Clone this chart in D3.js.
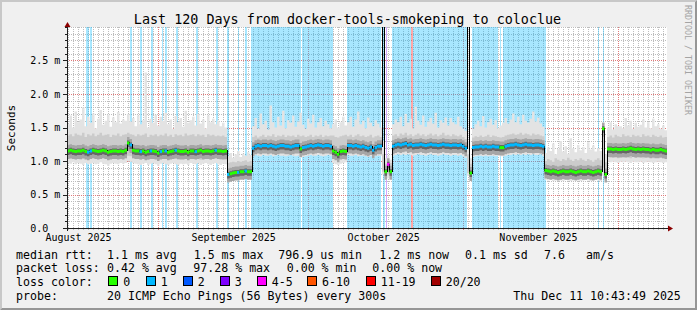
<!DOCTYPE html>
<html><head><meta charset="utf-8">
<script src="https://cdn.jsdelivr.net/npm/d3@7"></script>
<style>
body{margin:0;background:#f0f0f0}
svg{display:block}
text{font-family:"DejaVu Sans Mono",monospace;white-space:pre}
</style>
</head><body>
<svg id="c" width="697" height="310"></svg>
<script>
// ---------------- DATA ----------------
const titleText = "Last 120 Days from docker-tools-smokeping to coloclue";
const spanDays = 120;          // x domain, days since start of window
const binDays = 0.5;           // one sample every 12 hours
const monthLabels = ["August 2025","September 2025","October 2025","November 2025"];
const monthLabelDay = [2.3, 33.34, 63.34, 94.3];
const monthGridDay = [18.2, 48.2, 79.2, 110.2];
const yTicks = [0, 0.5, 1.0, 1.5, 2.0, 2.5];
const yTickLabels = ["0.0","0.5 m","1.0 m","1.5 m","2.0 m","2.5 m"];
const lossLabels = ["0","1","2","3","4-5","6-10","11-19","20/20"];
const lossColors = ["#26ff00","#00b8ff","#0059ff","#7e00ff","#ff00ff","#ff5500","#ff0000","#a10000"];

// median RTT per 12h sample (ms)
const median = [
 1.15,1.16,1.15,1.14,1.15,1.15,1.16,1.14,1.13,1.15,1.16,1.15,1.14,1.15,1.16,1.15,1.13,1.14,1.15,1.15,1.14,1.15,1.14,1.16,
 1.27,1.24,
 1.16,1.15,1.15,1.14,1.15,1.13,1.14,1.15,1.15,1.14,1.12,1.14,1.15,1.15,1.13,1.14,1.15,1.16,1.15,1.14,1.14,1.15,1.13,1.15,1.15,1.14,1.15,1.16,1.14,1.15,1.15,1.14,1.15,1.16,1.15,1.15,1.14,1.15,
 0.80,0.81,0.82,0.83,0.83,0.84,0.84,0.85,0.84,0.84,
 1.19,1.22,1.23,1.22,1.23,1.23,1.22,1.23,1.22,1.21,1.22,1.23,1.23,1.22,1.22,1.21,1.22,1.23,1.23,1.18,1.20,1.21,1.22,1.23,1.22,1.23,1.24,1.23,1.22,1.23,1.23,1.22,
 1.15,1.13,1.10,1.14,1.15,1.14,
 1.23,1.23,1.22,1.23,1.22,1.21,1.22,1.20,1.19,1.21,1.16,1.20,1.22,1.22,
 3.5,
 0.84,0.95,0.84,
 1.22,1.24,1.25,1.24,1.25,1.26,1.24,1.25,1.23,1.24,1.24,1.25,1.24,1.23,1.24,1.25,1.24,1.24,1.23,1.24,1.25,1.24,1.24,1.23,1.24,1.24,1.23,1.24,1.22,1.19,
 3.5,0.82,
 1.20,1.21,1.21,1.22,1.21,1.22,1.21,1.21,1.22,1.21,1.21,1.20,1.20,1.22,1.23,1.24,1.24,1.25,1.24,1.23,1.24,1.25,1.24,1.24,1.23,1.24,1.24,1.23,1.22,
 0.86,0.85,0.84,0.85,0.84,0.83,0.84,0.85,0.84,0.84,0.85,0.84,0.83,0.84,0.85,0.84,0.84,0.85,0.84,0.83,0.84,0.85,0.84,
 1.48,0.80,
 1.18,1.18,1.17,1.18,1.17,1.17,1.18,1.17,1.18,1.19,1.18,1.17,1.18,1.17,1.18,1.17,1.17,1.16,1.17,1.16,1.16,1.17,1.16,1.15
];
// smoke: lowest ping, lower body, upper body, highest ping (ms)
const smokeLo = [
 0.97,0.96,0.98,0.95,0.97,0.96,0.94,0.97,0.95,0.96,0.97,0.95,0.96,0.98,0.96,0.95,0.93,0.96,0.97,0.96,0.95,0.97,0.96,0.97,1.00,0.99,0.97,0.96,0.95,0.94,0.96,0.97,0.94,0.96,0.97,0.95,0.93,0.96,0.97,0.95,0.94,0.96,0.97,0.95,0.94,0.96,0.95,0.96,0.94,0.97,0.96,0.95,0.97,0.94,0.96,0.97,0.95,0.94,0.96,0.97,0.95,0.94,0.96,0.95,
 0.74,0.74,0.75,0.75,0.76,0.76,0.76,0.77,0.76,0.76,
 1.08,1.09,1.08,1.07,1.09,1.08,1.08,1.09,1.07,1.08,1.09,1.08,1.08,1.07,1.08,1.09,1.08,1.07,1.08,1.05,1.06,1.07,1.08,1.09,1.08,1.08,1.09,1.08,1.07,1.08,1.09,1.08,
 0.97,0.95,0.94,0.96,0.97,0.98,
 1.09,1.08,1.08,1.09,1.07,1.08,1.08,1.07,1.06,1.07,1.05,1.07,1.08,1.08,
 0.80,
 0.72,0.74,0.73,
 1.08,1.09,1.10,1.09,1.10,1.09,1.10,1.09,1.08,1.09,1.10,1.09,1.09,1.08,1.09,1.10,1.09,1.09,1.08,1.09,1.10,1.09,1.09,1.08,1.09,1.09,1.08,1.09,1.07,1.05,
 0.78,0.72,
 1.06,1.07,1.08,1.08,1.07,1.08,1.07,1.08,1.08,1.07,1.08,1.07,1.07,1.08,1.09,1.09,1.10,1.09,1.10,1.09,1.10,1.09,1.10,1.09,1.10,1.09,1.09,1.10,1.08,
 0.72,0.71,0.72,0.70,0.71,0.72,0.71,0.70,0.72,0.71,0.70,0.71,0.72,0.71,0.70,0.71,0.72,0.71,0.70,0.71,0.72,0.71,0.70,
 0.78,0.72,
 0.99,0.98,0.99,0.98,0.97,0.99,0.98,0.99,0.98,0.97,0.99,0.98,0.98,0.99,0.97,0.98,0.99,0.98,0.97,0.98,0.99,0.98,0.97,0.98
];
const smokeQ1 = [
 1.04,1.03,1.05,1.03,1.04,1.02,1.03,1.04,1.02,1.03,1.04,1.03,1.03,1.05,1.04,1.03,1.02,1.03,1.04,1.03,1.03,1.04,1.03,1.04,1.08,1.07,1.04,1.03,1.04,1.02,1.03,1.04,1.02,1.03,1.04,1.03,1.01,1.03,1.04,1.03,1.02,1.03,1.04,1.03,1.02,1.04,1.03,1.03,1.02,1.04,1.03,1.03,1.04,1.02,1.03,1.04,1.03,1.02,1.03,1.04,1.03,1.02,1.03,1.02,
 0.77,0.77,0.78,0.79,0.79,0.80,0.80,0.80,0.80,0.80,
 1.14,1.15,1.14,1.13,1.15,1.14,1.14,1.15,1.13,1.14,1.15,1.14,1.14,1.13,1.14,1.15,1.14,1.13,1.14,1.10,1.12,1.13,1.15,1.14,1.14,1.15,1.14,1.13,1.14,1.15,1.14,1.15,
 1.04,1.03,1.02,1.03,1.04,1.05,
 1.15,1.14,1.14,1.15,1.13,1.14,1.14,1.13,1.12,1.13,1.10,1.13,1.14,1.14,
 0.84,
 0.77,0.80,0.78,
 1.15,1.16,1.17,1.16,1.17,1.17,1.16,1.17,1.15,1.16,1.16,1.17,1.16,1.15,1.16,1.17,1.16,1.16,1.15,1.16,1.17,1.16,1.16,1.15,1.16,1.16,1.15,1.16,1.14,1.11,
 0.82,0.76,
 1.13,1.14,1.14,1.15,1.14,1.15,1.14,1.14,1.15,1.14,1.14,1.13,1.13,1.15,1.16,1.16,1.17,1.16,1.17,1.16,1.17,1.16,1.17,1.16,1.16,1.17,1.16,1.16,1.15,
 0.77,0.76,0.76,0.75,0.76,0.77,0.76,0.75,0.76,0.76,0.75,0.76,0.77,0.76,0.75,0.76,0.77,0.76,0.75,0.76,0.77,0.76,0.75,
 0.90,0.76,
 1.06,1.05,1.06,1.05,1.04,1.06,1.05,1.06,1.05,1.04,1.06,1.05,1.05,1.06,1.04,1.05,1.06,1.05,1.04,1.05,1.06,1.05,1.04,1.05
];
const smokeQ3 = [
 1.38,1.40,1.37,1.41,1.39,1.38,1.42,1.36,1.40,1.38,1.41,1.37,1.39,1.42,1.38,1.39,1.40,1.36,1.39,1.38,1.41,1.37,1.39,1.40,1.42,1.40,1.39,1.37,1.40,1.38,1.39,1.41,1.36,1.39,1.38,1.40,1.37,1.39,1.38,1.41,1.37,1.39,1.36,1.40,1.38,1.39,1.37,1.41,1.38,1.39,1.40,1.37,1.40,1.38,1.39,1.36,1.40,1.38,1.39,1.37,1.38,1.37,1.38,1.36,
 0.97,0.98,0.99,0.98,1.00,0.99,1.00,1.01,0.99,1.00,
 1.36,1.38,1.35,1.37,1.39,1.36,1.38,1.37,1.40,1.36,1.38,1.37,1.39,1.36,1.38,1.37,1.38,1.36,1.39,1.37,1.38,1.36,1.37,1.39,1.36,1.38,1.37,1.39,1.36,1.38,1.37,1.38,
 1.38,1.36,1.35,1.37,1.38,1.39,
 1.37,1.39,1.36,1.38,1.40,1.37,1.38,1.36,1.37,1.39,1.35,1.37,1.38,1.36,
 1.10,
 0.96,1.00,0.97,
 1.38,1.40,1.37,1.41,1.39,1.42,1.38,1.40,1.37,1.39,1.41,1.38,1.40,1.37,1.39,1.41,1.38,1.40,1.37,1.39,1.42,1.38,1.39,1.37,1.40,1.38,1.37,1.39,1.36,1.33,
 1.10,0.96,
 1.35,1.37,1.36,1.38,1.36,1.37,1.39,1.36,1.38,1.37,1.36,1.35,1.36,1.38,1.39,1.40,1.41,1.39,1.40,1.42,1.39,1.41,1.40,1.38,1.41,1.39,1.40,1.38,1.37,
 1.00,1.03,1.01,0.99,1.04,1.02,1.00,1.03,1.01,1.05,1.02,1.00,1.03,1.01,1.04,1.02,1.00,1.03,1.01,0.99,1.02,1.04,1.01,
 1.40,0.98,
 1.36,1.38,1.35,1.39,1.37,1.36,1.40,1.37,1.38,1.36,1.39,1.37,1.38,1.36,1.40,1.37,1.38,1.36,1.39,1.37,1.36,1.38,1.35,1.36
];
const smokeHi = [
 1.55,1.68,1.50,1.74,1.58,1.62,1.80,1.52,1.66,1.57,1.71,1.49,1.63,1.76,1.54,1.60,1.69,1.51,1.65,1.58,1.73,1.56,1.62,1.60,1.70,1.59,1.64,1.52,1.68,1.55,1.61,2.32,1.50,1.63,1.57,1.69,1.53,1.66,1.60,1.72,1.55,1.62,1.48,1.67,1.58,1.64,1.51,1.75,1.57,1.61,1.66,1.53,1.70,1.56,1.62,1.49,1.68,1.58,1.63,1.55,1.60,1.52,1.57,1.50,
 1.07,1.12,1.05,1.10,1.15,1.06,1.11,1.08,1.13,1.09,
 1.52,1.64,1.48,1.71,1.55,1.60,1.47,1.83,1.58,1.50,1.66,1.53,1.75,1.49,1.61,1.57,1.68,1.51,1.59,1.72,1.54,1.48,1.63,1.56,1.69,1.50,1.58,1.64,1.52,1.60,1.55,1.49,
 1.55,1.62,1.50,1.58,1.66,1.53,
 1.58,1.66,1.51,1.62,1.74,1.55,1.60,1.49,1.65,1.57,1.52,1.61,1.56,1.50,
 1.30,
 1.04,1.08,1.02,
 1.55,1.62,1.58,1.66,1.52,1.70,1.57,1.63,1.49,1.81,1.60,1.54,1.68,1.51,1.59,1.64,1.56,1.72,1.50,1.61,1.57,1.65,1.53,1.64,1.58,1.55,1.66,1.52,1.48,1.45,
 1.30,1.04,
 1.48,1.55,1.60,1.52,1.67,1.50,1.58,1.63,1.54,1.61,1.49,1.53,1.57,1.64,1.56,1.62,1.71,1.58,1.66,1.55,1.69,1.60,1.57,1.63,1.74,1.59,1.65,1.56,1.51,
 1.12,1.20,1.15,1.26,1.10,1.18,1.30,1.14,1.22,1.11,1.34,1.19,1.13,1.24,1.16,1.21,1.12,1.28,1.17,1.23,1.14,1.19,1.15,
 1.58,1.10,
 1.50,1.58,1.47,1.55,1.52,1.52,1.49,1.64,1.53,1.60,1.48,1.57,1.51,1.54,1.62,1.50,1.58,1.49,1.63,1.52,1.55,1.48,1.53,1.46
];
// loss bucket of the median: [firstSample, lastSample, bucket]; all other samples bucket 0
const lossRuns = [[8,9,1],[25,25,1],[29,29,1],[33,33,1],[37,37,1],[39,39,1],[43,43,1],[51,51,1],[59,59,1],
 [64,64,1],[68,68,1],[71,71,1],[74,92,1],[94,105,1],[112,125,1],[126,126,6],[128,128,4],[130,159,1],
 [160,160,6],[162,172,1],[175,190,1]];
// loss background bars: [startDay, endDay, bucket]
const lossBg = [[3.8,4.3,1],[4.54,5.0,1],[12.6,12.9,1],[14.6,14.9,1],[16.8,17.1,1],[18.9,19.2,1],[19.6,19.9,1],
 [21.8,22.1,1],[25.8,26.1,1],[29.86,30.14,1],[32.0,32.3,1],[34.1,34.4,1],[35.6,36.0,1],[36.8,46.74,1],
 [47.06,53.2,1],[56.06,62.7,1],[63.2,63.6,1],[63.8,64.1,3],[64.94,68.8,1],[68.8,69.1,6],[69.1,80.0,1],
 [80.94,86.3,1],[86.6,86.8,1],[87.1,87.3,1],[87.5,95.8,1],[106.14,106.4,1],[107.14,107.4,1]];

const legendRows = [
 {y:258.5, items:[[16,"median rtt:"],[107,"1.1 ms avg"],[193.7,"1.5 ms max"],[278.3,"796.9 us min"],[379.3,"1.2 ms now"],[465,"0.1 ms sd"],[544,"7.6"],[586,"am/s"]]},
 {y:272.3, items:[[16,"packet loss:"],[107,"0.42 % avg"],[193.3,"97.28 % max"],[286.7,"0.00 % min"],[372.3,"0.00 % now"]]},
 {y:286, items:[[16,"loss color:"]]},
 {y:299.8, items:[[16,"probe:"],[107,"20 ICMP Echo Pings (56 Bytes) every 300s"],[513.3,"Thu Dec 11 10:43:49 2025"]]}
];
const lossBoxX = [108.3,145.7,182.7,219.7,256.7,307,365.7,430.7];

// ---------------- CHART ----------------
const W = 697, H = 310;
const X0 = 67, X1 = 667, Y0 = 228, Y1 = 27;
const svg = d3.select("#c");
const x = d3.scaleLinear().domain([0, spanDays]).range([X0, X1]);
const y = d3.scaleLinear().domain([0, 3.0]).range([Y0, Y1]);
const N = median.length;
const loss = new Array(N).fill(0);
lossRuns.forEach(([a,b,k]) => { for (let i=a;i<=b;i++) loss[i]=k; });

svg.append("rect").attr("width",W).attr("height",H).attr("fill","#f0f0f0");
svg.append("path").attr("d","M0,0H697L695,2H2V308L0,310Z").attr("fill","#c8c8c8");
svg.append("path").attr("d","M697,0V310H0L2,308H695V2Z").attr("fill","#969696");

svg.append("rect").attr("x",X0).attr("y",Y1).attr("width",X1-X0).attr("height",Y0-Y1).attr("fill","#ffffff");

const defs = svg.append("defs");
defs.append("clipPath").attr("id","plot").append("rect")
  .attr("x",X0).attr("y",Y1).attr("width",X1-X0).attr("height",Y0-Y1);

// grid
const px = v => Math.round(v) + 0.5;
const gGrid = svg.append("g").attr("shape-rendering","crispEdges").attr("stroke-width",1);
const isMajorY = v => yTicks.some(t => Math.abs(t - v) < 1e-6);
y.ticks(30).filter(v => v > 0 && !isMajorY(v)).forEach(v => {
  gGrid.append("line").attr("x1",X0-2).attr("x2",X1).attr("y1",px(y(v))).attr("y2",px(y(v)))
    .attr("stroke","#bdbdbd").attr("stroke-dasharray","1,1");
});
const minorDays = d3.range(0.2, spanDays, 1).filter(d => !monthGridDay.some(m => Math.abs(m-d) < 1e-6));
minorDays.forEach(d => {
  gGrid.append("line").attr("x1",px(x(d))).attr("x2",px(x(d))).attr("y1",Y1).attr("y2",Y0+2)
    .attr("stroke","#bdbdbd").attr("stroke-dasharray","1,1");
});
yTicks.filter(v => v > 0).forEach(v => {
  gGrid.append("line").attr("x1",X0-4).attr("x2",X1).attr("y1",px(y(v))).attr("y2",px(y(v)))
    .attr("stroke","#e07a7a").attr("stroke-dasharray","1,1");
});
monthGridDay.forEach(d => {
  gGrid.append("line").attr("x1",px(x(d))).attr("x2",px(x(d))).attr("y1",Y1).attr("y2",Y0+3)
    .attr("stroke","#e07a7a").attr("stroke-dasharray","1,1");
});

// loss background
const gBg = svg.append("g").attr("clip-path","url(#plot)").attr("shape-rendering","crispEdges");
gBg.selectAll("rect").data(lossBg).join("rect")
  .attr("x", d => Math.round(x(d[0]))).attr("width", d => Math.max(1, Math.round(x(d[1])) - Math.round(x(d[0]))))
  .attr("y", Y1).attr("height", Y0 - Y1)
  .attr("fill", d => lossColors[d[2]]).attr("fill-opacity", 0.34);

// smoke
const pts = d3.range(N + 1).map(i => ({t: i * binDays, j: Math.min(i, N - 1)}));
const gSmoke = svg.append("g").attr("clip-path","url(#plot)");
const band = (data, lo, hi, fill) => gSmoke.append("path").datum(data)
  .attr("d", d3.area().curve(d3.curveStepAfter).x(p => x(p.t)).y0(lo).y1(hi))
  .attr("fill", fill);
band(pts, p => y(smokeLo[p.j]), p => y(smokeHi[p.j]), "#e3e3e3");
band(pts, p => y(smokeQ1[p.j]), p => y(smokeQ3[p.j]), "#cbcbcb");
band(pts, p => y(median[p.j]) + 8, p => y(median[p.j]) - 6, "#a6a6a6");
band(pts, p => y(median[p.j]) + 4, p => y(median[p.j]) - 2.5, "#666666");

// median: thin black line, then loss-coloured band per sample
const line = d3.line().curve(d3.curveStepAfter).x(p => x(p.t)).y(p => y(median[p.j]));
gSmoke.append("path").datum(pts).attr("d", line).attr("fill","none").attr("stroke","#000")
  .attr("stroke-width",1).attr("shape-rendering","crispEdges");
let runs = [], s = 0;
for (let i = 1; i <= N; i++) {
  if (i === N || loss[i] !== loss[s]) { runs.push([s, i - 1, loss[s]]); s = i; }
}
runs.forEach(([a,b,k]) => {
  const seg = d3.range(a, b + 2).map(i => ({t: i * binDays, j: Math.min(i, b)}));
  band(seg, p => y(median[p.j]) + 1.5, p => y(median[p.j]) - 1.5, lossColors[k]);
});

// axes
const gAx = svg.append("g").attr("shape-rendering","crispEdges");
gAx.append("line").attr("x1",X0-3).attr("x2",X1+3).attr("y1",Y0+0.5).attr("y2",Y0+0.5).attr("stroke","#202020");
gAx.append("line").attr("x1",X0+0.5).attr("x2",X0+0.5).attr("y1",Y0+3).attr("y2",Y1-3).attr("stroke","#202020");
y.ticks(30).forEach(v => {
  const maj = isMajorY(v);
  gAx.append("line").attr("x1", X0 - (maj ? 4 : 2)).attr("x2", X0).attr("y1",px(y(v))).attr("y2",px(y(v)))
    .attr("stroke","#202020");
});
svg.append("path").attr("d",`M${X1+1},${Y0-2.5}L${X1+6},${Y0+0.5}L${X1+1},${Y0+3.5}Z`).attr("fill","#8b0000");
svg.append("path").attr("d",`M${X0-2.5},${Y1}L${X0+0.5},${Y1-5}L${X0+3.5},${Y1}Z`).attr("fill","#8b0000");

// text
svg.append("text").attr("x",347.5).attr("y",23.5).attr("text-anchor","middle")
  .style("font-size","13.4px").attr("fill","#000").text(titleText);
svg.append("text").attr("transform","translate(15,128) rotate(-90)").attr("text-anchor","middle")
  .style("font-size","11px").attr("fill","#000").text("Seconds");
yTicks.forEach((v,i) => {
  svg.append("text").attr("x",30.2).attr("y",y(v)+3.6).style("font-size","10px").attr("fill","#000").text(yTickLabels[i]);
});
monthLabels.forEach((m,i) => {
  svg.append("text").attr("x",x(monthLabelDay[i])).attr("y",241).attr("text-anchor","middle")
    .style("font-size","10px").attr("fill","#000").text(m);
});
svg.append("text").attr("transform","translate(684.5,5) rotate(90)")
  .style("font-size","8.3px").attr("fill","#a4a4a4").text("RRDTOOL / TOBI OETIKER");

legendRows.forEach(r => r.items.forEach(([lx,t]) => {
  svg.append("text").attr("x",lx).attr("y",r.y).style("font-size","11.6px").attr("fill","#000").text(t);
}));
lossLabels.forEach((lab,i) => {
  svg.append("rect").attr("x",Math.round(lossBoxX[i])+0.5).attr("y",276.5).attr("width",9).attr("height",9)
    .attr("fill",lossColors[i]).attr("stroke","#000").attr("stroke-width",1).attr("shape-rendering","crispEdges");
  svg.append("text").attr("x",lossBoxX[i]+15).attr("y",286).style("font-size","11.6px").attr("fill","#000").text(lab);
});
</script>
</body></html>
